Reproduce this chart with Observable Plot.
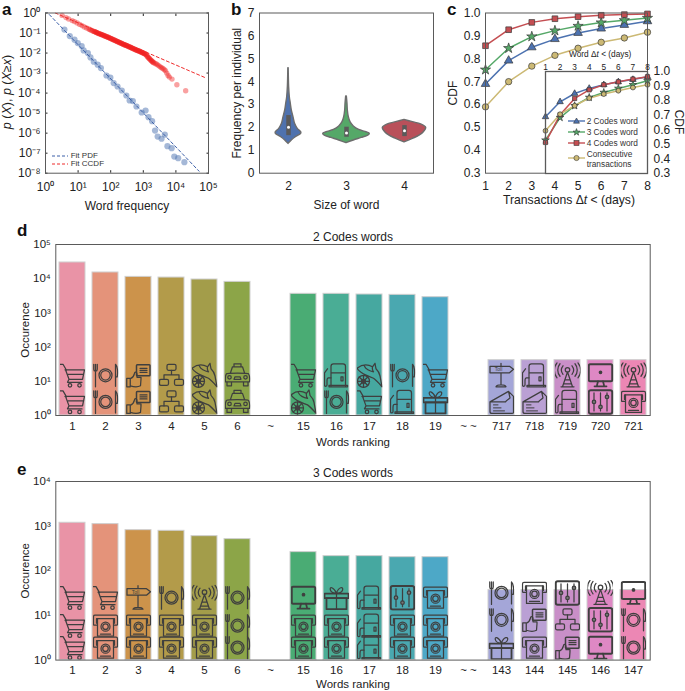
<!DOCTYPE html>
<html>
<head>
<meta charset="utf-8">
<script src="https://cdn.jsdelivr.net/npm/d3@7"></script>
<script src="https://cdn.jsdelivr.net/npm/@observablehq/plot@0.6"></script>
<style>
html,body{margin:0;padding:0;background:#fff;}
#page{position:relative;width:685px;height:691px;overflow:hidden;font-family:"Liberation Sans",Arial,sans-serif;color:#222;}
#page svg{position:absolute;background:transparent;}
.t{position:absolute;white-space:nowrap;line-height:1;}
.letter{font-weight:bold;font-size:17px;color:#111;}
.yl{transform:translate(-50%,-50%) rotate(-90deg);font-size:12px;}
.yr{transform:translate(-50%,-50%) rotate(90deg);font-size:12px;}
.lg{font-size:8.3px;line-height:10px;color:#333;}
</style>
</head>
<body>
<div id="page"></div>
<script>
// ---------- panel a (log10 values)
const pdfLogX=[0.58,0.745,0.89,0.99,1.11,1.17,1.30,1.38,1.48,1.60,1.70,1.87,1.99,2.09,2.21,2.34,2.48,2.58,2.68,2.79,2.95,3.07,3.16,3.27,3.36,3.44,3.56,3.66,3.74,3.87,3.95,4.07,4.26];
const pdfLogY=[-0.83,-1.15,-1.33,-1.5,-1.65,-1.87,-2.0,-2.22,-2.43,-2.58,-2.75,-3.12,-3.23,-3.5,-3.67,-3.87,-4.12,-4.37,-4.4,-4.67,-4.97,-4.87,-5.2,-5.4,-5.87,-6.17,-6.28,-6.07,-6.65,-6.75,-7.17,-7.25,-7.45];
const ccdfLogX=[0.51,0.63,0.71,0.82,0.89,0.97,1.05,1.12,1.19,1.26,1.33,1.36,1.40,1.44,1.48,1.52,1.56,1.60,1.64,1.68,1.72,1.76,1.80,1.84,1.88,1.92,1.96,2.0,2.04,2.08,2.12,2.16,2.2,2.24,2.28,2.32,2.36,2.4,2.44,2.48,2.52,2.56,2.6,2.64,2.68,2.72,2.76,2.8,2.84,2.88,2.92,2.96,3.0,3.04,3.08,3.12,3.16,3.2,3.24,3.28,3.32,3.36,3.4,3.44,3.48,3.52,3.56,3.6,3.64,3.68,3.72,3.76,3.8,3.88,4.03,4.3];
const ccdfLogY=[-0.12,-0.23,-0.30,-0.38,-0.43,-0.50,-0.57,-0.63,-0.70,-0.75,-0.80,-0.83,-0.86,-0.89,-0.92,-0.94,-0.97,-1.0,-1.03,-1.05,-1.08,-1.10,-1.13,-1.16,-1.19,-1.21,-1.24,-1.27,-1.30,-1.33,-1.36,-1.39,-1.42,-1.45,-1.48,-1.51,-1.54,-1.57,-1.60,-1.62,-1.65,-1.68,-1.71,-1.74,-1.77,-1.80,-1.83,-1.86,-1.88,-1.91,-1.94,-1.97,-2.0,-2.03,-2.07,-2.16,-2.23,-2.30,-2.37,-2.43,-2.48,-2.52,-2.55,-2.59,-2.64,-2.69,-2.73,-2.77,-2.82,-2.88,-3.0,-3.12,-3.2,-3.3,-3.58,-3.88];
const ccdfDenseLogX=[1.50,1.54,1.58,1.62,1.66,1.70,1.74,1.78,1.82,1.86,1.90,1.94,1.98,2.02,2.06,2.10,2.14,2.18,2.22,2.26,2.30,2.34,2.38,2.42,2.46,2.5,2.54,2.58,2.62,2.66,2.7,2.74,2.78,2.82,2.86,2.9,2.94,2.98,3.02,3.06,3.1,3.14,3.18,3.22,3.26,3.3];
const ccdfDenseLogY=[-.93,-.955,-.985,-1.015,-1.04,-1.065,-1.09,-1.115,-1.145,-1.175,-1.20,-1.225,-1.255,-1.285,-1.315,-1.345,-1.375,-1.405,-1.435,-1.465,-1.495,-1.525,-1.555,-1.585,-1.61,-1.635,-1.665,-1.695,-1.725,-1.755,-1.785,-1.815,-1.845,-1.87,-1.895,-1.925,-1.955,-1.985,-2.015,-2.05,-2.11,-2.2,-2.27,-2.34,-2.4,-2.455];
const fitPdfLog=[[0,0.12],[4.71,-7.9]];
const fitCcdfLog=[[0.3,0],[4.9,-3.23]];

// ---------- panel b
const violinCats=["2","3","4"];
const violinColors=["#4f72ae","#55a868","#b9505a"];
const violinY=[[1.28,1.43,1.57,1.72,1.79,1.94,2.15,2.45,2.74,3.03,3.32,3.76,4.19,4.59],
               [1.31,1.43,1.54,1.64,1.72,1.79,1.89,2.04,2.23,2.45,2.74,3.03,3.35],
               [1.35,1.5,1.64,1.79,1.98,2.13,2.23,2.33]];
const violinHalf=[[0,.057,.126,.218,.22,.16,.115,.086,.057,.04,.023,.011,.006,.003],
                  [0,.126,.259,.374,.402,.345,.218,.126,.069,.04,.023,.017,.006],
                  [0,.144,.259,.333,.374,.287,.144,0]];
const boxLow=[1.64,1.57,1.6], boxHigh=[2.52,2.01,2.08], boxMedian=[2.01,1.76,1.86];

// ---------- panel c
const days=[1,2,3,4,5,6,7,8];
const seriesNames=["2 Codes word","3 Codes word","4 Codes word","Consecutive transactions"];
const seriesColors=["#4c72b0","#55a868","#c44e52","#ccb974"];
const seriesSymbols=["triangle","star","square","circle"];
const transCDF=[[.69,.792,.85,.886,.913,.932,.948,.964],
                [.752,.846,.897,.923,.943,.958,.968,.978],
                [.857,.927,.959,.975,.984,.99,.993,.996],
                [.59,.70,.768,.815,.846,.872,.891,.916]];
const wordCDF=[[.689,.792,.849,.884,.909,.929,.945,.964],
               [.529,.684,.765,.822,.856,.884,.909,.936],
               [.513,.703,.815,.874,.909,.929,.948,.964],
               [.593,.707,.765,.817,.845,.868,.890,.909]];

// ---------- panels d, e
const rankColors=["#e993a6","#e4937a","#cc934b","#b39b4a","#a39d4a","#8ca548","~","#4aac74","#4aad95","#46a8a0","#4aa8b0","#4da8c7","~~","#a4a6d8","#baa0d4","#c98fc8","#de88c4","#ec87b4"];
const ranksD=["1","2","3","4","5","6","~","15","16","17","18","19","~ ~","717","718","719","720","721"];
const valuesD=[29800,15200,11300,10800,9470,8070,null,3610,3610,3450,3370,2880,null,41.5,41.5,41.5,41.5,41.5];
const iconsD1=["cart","plate","thumb","net","fish","taxi",null,"fish","plate","cart","pump","gift",null,"cheese","cheese","pump","sliders","atm"];
const iconsD2=["cart","plate","thumb","net","fish","taxi",null,"cart","pump","fish","plate","cart",null,"toll","pump","antenna","monitor","antenna"];
const ranksE=["1","2","3","4","5","6","~","15","16","17","18","19","~ ~","143","144","145","146","147"];
const valuesE=[1190,1110,813,786,597,512,null,262,213,213,202,202,null,37,37,37,37,37];
const iconsE1=["cart","atm","atm","atm","atm","plate",null,"atm","atm","pump","atm","atm",null,"gift","atm","thumb","monitor","plate"];
const iconsE2=["cart","atm","atm","atm","atm","plate",null,"atm","atm","pump","atm","atm",null,"plate","thumb","net","sliders","plate"];
const iconsE3=["cart","cart","toll","plate","antenna","plate",null,"monitor","gift","pump","sliders","atm",null,"plate","atm","sliders","antenna","monitor"];

// ---------- pictograms
const iconShapes={
cart:`<path d="M1 6H12L26 30M20 28H98L90 66H36L22 28M32 46H94M36 66L30 78H88"/><circle cx="40" cy="90" r="7"/><circle cx="78" cy="90" r="7"/>`,
plate:`<circle cx="50" cy="50" r="26"/><circle cx="50" cy="50" r="19"/><path d="M3 6V26C3 36 17 36 17 26V6M10 6V96M90 94V6C99 14 100 40 97 56H90"/>`,
thumb:`<rect x="42" y="8" width="54" height="44" rx="3" stroke-width="6"/><path d="M56 22H84M56 30H84M56 38H84"/><path d="M3 62H17V96H3ZM17 64C26 60 32 52 34 42C36 34 44 36 44 46V58H60V66L58 92C50 96 30 96 17 92"/>`,
net:`<rect x="32" y="6" width="36" height="24" rx="6"/><rect x="2" y="66" width="36" height="24" rx="6"/><rect x="62" y="66" width="36" height="24" rx="6"/><path d="M50 30V48M20 66V48H80V66"/>`,
fish:`<path d="M0 22C20 6 44 6 62 16L72 2L76 24C84 32 90 42 92 52L100 96C88 82 78 70 66 62C50 56 30 48 16 38C8 32 4 28 0 22ZM30 14C34 24 50 34 66 36M62 16C60 24 62 30 66 36"/><circle cx="26" cy="74" r="24"/><circle cx="26" cy="74" r="8"/><path d="M26 50V98M2 74H50M9 57L43 91M43 57L9 91"/>`,
taxi:`<path d="M36 14V4H64V14M22 40L30 16H70L78 40M6 44C10 40 90 40 94 44C98 50 100 60 98 76H2C0 60 2 50 6 44ZM8 76V92H26V76M74 76V92H92V76M36 66L40 56H60L64 66Z"/><circle cx="18" cy="58" r="7"/><circle cx="82" cy="58" r="7"/>`,
pump:`<path d="M28 92V14C28 8 32 4 38 4H76C82 4 86 8 86 14V92M20 96H94V90H20ZM28 40H86"/><path d="M28 60H18C12 60 12 66 12 72V88C12 96 2 96 2 88V40L14 24"/><rect x="68" y="56" width="8" height="16"/>`,
gift:`<rect x="2" y="34" width="96" height="18" stroke-width="7"/><rect x="10" y="52" width="80" height="44" stroke-width="7"/><path d="M50 34V96M50 32C38 6 20 4 26 20C30 30 44 32 50 32C58 6 80 4 74 20C70 30 56 32 50 32Z"/>`,
toll:`<path d="M48 2V14M4 14H82L98 26L82 40H4ZM48 40V88M28 96C32 86 64 86 68 96Z"/><text x="38" y="34" font-family="Liberation Sans" font-size="20" fill="#3f3f3f" stroke="none" text-anchor="middle">Toll</text>`,
cheese:`<path d="M4 50L78 8L98 28V92C98 96 94 96 90 96H12C6 96 4 92 4 88ZM4 50H66C70 42 78 42 84 34L78 8"/><path d="M18 62H36M18 74H48M18 86H62" stroke-width="4"/>`,
antenna:`<circle cx="50" cy="28" r="9"/><path d="M50 37L30 96M50 37L70 96M40 68H60M34 84H66M24 96H76M32 12C24 22 24 36 32 46M68 12C76 22 76 36 68 46M20 4C8 18 8 40 20 54M80 4C92 18 92 40 80 54M8 0C-6 18 -6 42 8 60M92 0C106 18 106 42 92 60"/>`,
monitor:`<rect x="3" y="6" width="94" height="68" rx="6" stroke-width="8"/><circle cx="50" cy="38" r="5" fill="#3f3f3f"/><path d="M40 74L36 90M60 74L64 90M26 94H74" stroke-width="7"/>`,
sliders:`<rect x="3" y="3" width="94" height="94" rx="8" stroke-width="8"/><path d="M24 14V86M50 14V86M76 14V86"/><circle cx="24" cy="50" r="7" fill="#777"/><circle cx="50" cy="70" r="7" fill="#777"/><circle cx="76" cy="30" r="7" fill="#777"/>`,
atm:`<path d="M14 48H6C3 48 2 46 2 44V14C2 10 4 8 8 8H92C96 8 98 10 98 14V44C98 46 97 48 94 48H86"/><path d="M14 22H86M14 22V40M86 22V40"/><path d="M18 22V92H82V22"/><circle cx="50" cy="54" r="18"/><circle cx="50" cy="54" r="11"/><path d="M30 84H70"/>`
};
const iconSrc=name=>"data:image/svg+xml,"+encodeURIComponent(
  `<svg xmlns="http://www.w3.org/2000/svg" viewBox="-2 -2 104 104"><g fill="none" stroke="#3f3f3f" stroke-width="5" stroke-linejoin="round" stroke-linecap="round">${iconShapes[name]}</g></svg>`);

// ---------- helpers
const page=document.getElementById("page");
const FRAME="#5a5a5a", INK="#222";
function put(plot,left,top){
  plot.style.left=left+"px";plot.style.top=top+"px";plot.style.position="absolute";
  page.appendChild(plot);
}
function text(html,left,top,cls){
  const d=document.createElement("div");
  d.className="t "+(cls||"");d.innerHTML=html;d.style.left=left+"px";d.style.top=top+"px";
  page.appendChild(d);return d;
}
const SUP={"0":"⁰","1":"¹","2":"²","3":"³","4":"⁴","5":"⁵","6":"⁶","7":"⁷","8":"⁸","9":"⁹","-":"⁻"};
const pow10=v=>"10"+String(Math.round(Math.log10(v))).replace(/./g,c=>SUP[c]);
const base={style:{fontFamily:'"Liberation Sans",Arial,sans-serif',fontSize:"12px",color:INK,background:"transparent",overflow:"visible"}};

// ---------- panel a
const pdfPts=pdfLogX.map((x,i)=>({x:10**x,y:10**pdfLogY[i]}));
const ccdfPts=[...ccdfLogX.map((x,i)=>({x:10**x,y:10**ccdfLogY[i]})),...ccdfDenseLogX.map((x,i)=>({x:10**x,y:10**ccdfDenseLogY[i]}))];
const toPts=a=>a.map(([x,y])=>({x:10**x,y:10**y}));
const decadesX=[1,10,100,1e3,1e4,1e5], decadesY=[1e-8,1e-7,1e-6,1e-5,1e-4,1e-3,1e-2,1e-1,1];
put(Plot.plot({...base,width:218,height:212,marginLeft:45,marginTop:12.5,marginRight:10,marginBottom:39.3,
  x:{type:"log",domain:[1,1e5]},y:{type:"log",domain:[1e-8,1]},
  marks:[
    Plot.dot(pdfPts,{x:"x",y:"y",r:3.1,fill:"#4c72b0",fillOpacity:.5,stroke:"none"}),
    Plot.dot(ccdfPts,{x:"x",y:"y",r:2.7,fill:"#f02020",fillOpacity:.42,stroke:"none"}),
    Plot.line(toPts(fitPdfLog),{x:"x",y:"y",stroke:"#3b5fa8",strokeWidth:1,strokeDasharray:"3 2.5",clip:true}),
    Plot.line(toPts(fitCcdfLog),{x:"x",y:"y",stroke:"#ee2b2b",strokeWidth:1,strokeDasharray:"3 2.5",clip:true}),
    Plot.axisX({ticks:decadesX,tickFormat:pow10,tickSize:-2.5,tickPadding:11.5,fontSize:12,label:"Word frequency",labelAnchor:"center",labelOffset:37,labelArrow:"none"}),
    Plot.axisX({anchor:"top",ticks:decadesX,tickFormat:()=>"",tickSize:-2.5,label:null}),
    Plot.axisY({ticks:decadesY,tickFormat:pow10,tickSize:-2.5,tickPadding:7.5,fontSize:12,label:null}),
    Plot.axisY({anchor:"right",ticks:decadesY,tickFormat:()=>"",tickSize:-2.5,label:null}),
    Plot.frame({stroke:FRAME,strokeWidth:1})
  ]}),0,0);
text("<i>p</i> (<i>X</i>), <i>p</i> (<i>X</i>≥<i>x</i>)",7,92,"yl").style.fontSize="12.5px";

// ---------- panel b
const centers=violinCats.map((_,i)=>i+.5);
const violinRows=violinCats.flatMap((c,i)=>violinY[i].map((y,j)=>({c,y,x1:centers[i]-violinHalf[i][j],x2:centers[i]+violinHalf[i][j]})));
const boxRows=violinCats.map((c,i)=>({x:centers[i],lo:boxLow[i],hi:boxHigh[i],m:boxMedian[i]}));
put(Plot.plot({...base,width:215,height:212,marginLeft:34,marginTop:12.5,marginRight:7,marginBottom:39.3,
  x:{domain:[0,3]},y:{domain:[0,7]},
  color:{domain:violinCats,range:violinColors},
  marks:[
    Plot.areaX(violinRows,{y:"y",x1:"x1",x2:"x2",z:"c",fill:"c",stroke:"#6d6d6d",strokeWidth:1.4,curve:"catmull-rom"}),
    Plot.ruleX(boxRows,{x:"x",y1:"lo",y2:"hi",stroke:"#5a5a5a",strokeWidth:4.5}),
    Plot.dot(boxRows,{x:"x",y:"m",r:1.5,fill:"#fff",stroke:"none"}),
    Plot.axisX({ticks:centers,tickFormat:d=>violinCats[Math.floor(d)],tickSize:0,tickPadding:8,fontSize:12,label:"Size of word",labelAnchor:"center",labelOffset:36,labelArrow:"none"}),
    Plot.axisY({ticks:[0,1,2,3,4,5,6,7],tickFormat:d=>String(d),tickSize:0,tickPadding:5,fontSize:12,label:"Frequency per individual",labelAnchor:"center",labelOffset:27,labelArrow:"none"}),
    Plot.frame({stroke:FRAME,strokeWidth:1})
  ]}),225,0);

// ---------- panel c
const longRows=table=>seriesNames.flatMap((s,i)=>days.map((d,j)=>({s,d,v:table[i][j]})));
const cColor={domain:seriesNames,range:seriesColors};
const cSym={domain:seriesNames,range:seriesSymbols};
const seriesMarks=(rows,r)=>[
  Plot.line(rows,{x:"d",y:"v",z:"s",stroke:"s",strokeWidth:1.5}),
  Plot.dot(rows,{x:"d",y:"v",symbol:"s",fill:"s",stroke:"#3a3a3a",strokeWidth:.7,r})
];
put(Plot.plot({...base,width:215,height:212,marginLeft:45,marginTop:12.5,marginRight:8,marginBottom:39.3,
  x:{domain:[1,8]},y:{domain:[.3,1]},color:cColor,symbol:cSym,
  marks:[
    ...seriesMarks(longRows(transCDF),3.2),
    Plot.axisX({ticks:days,tickFormat:d=>String(d),tickSize:0,tickPadding:8,fontSize:12,label:null}),
    Plot.axisY({ticks:[.3,.4,.5,.6,.7,.8,.9,1],tickFormat:d3.format(".1f"),tickSize:0,tickPadding:5,fontSize:12,label:"CDF",labelAnchor:"center",labelOffset:37,labelArrow:"none"}),
    Plot.frame({stroke:FRAME,strokeWidth:1})
  ]}),440,0);
const inset=Plot.plot({...base,width:102,height:102,marginLeft:0,marginTop:0,marginRight:0,marginBottom:0,
  x:{domain:[1,8]},y:{domain:[.3,1]},color:cColor,symbol:cSym,
  marks:[
    Plot.frame({fill:"#fff",stroke:"none"}),
    ...seriesMarks(longRows(wordCDF),2.4),
    Plot.axisX({anchor:"top",ticks:days,tickFormat:d=>String(d),tickSize:0,tickPadding:2,fontSize:8.3,label:null}),
    Plot.axisY({anchor:"right",ticks:[.3,.4,.5,.6,.7,.8,.9,1],tickFormat:d3.format(".1f"),tickSize:0,tickPadding:6,fontSize:12,label:null}),
    Plot.frame({stroke:FRAME,strokeWidth:1.3})
  ]});
put(inset,545,70.7);
text("Word Δ<i>t</i> &lt; (days)",569,50).style.fontSize="8.3px";
text("Transactions Δ<i>t</i> &lt; (days)",503,194).style.fontSize="12.2px";
text("CDF",678.5,122,"yr");

// legend of panel c
const swatch=(color,shape)=>`<svg style="position:static;display:block;" width="17" height="8" viewBox="0 0 17 8"><line x1="0" x2="17" y1="4" y2="4" stroke="${color}" stroke-width="1.4"/>${shape}</svg>`;
const legendShapes=[
  `<path d="M8.5 1L11.5 6.2H5.5Z" fill="#4c72b0" stroke="#3a3a3a" stroke-width=".6"/>`,
  `<path d="M8.5 .6L9.4 3.1H12L9.9 4.7L10.7 7.2L8.5 5.7L6.3 7.2L7.1 4.7L5 3.1H7.6Z" fill="#55a868" stroke="#3a3a3a" stroke-width=".6"/>`,
  `<rect x="6" y="1.5" width="5" height="5" fill="#c44e52" stroke="#3a3a3a" stroke-width=".6"/>`,
  `<circle cx="8.5" cy="4" r="2.6" fill="#ccb974" stroke="#3a3a3a" stroke-width=".6"/>`];
[121,132.3,142.7].forEach((mid,i)=>{
  text(swatch(seriesColors[i],legendShapes[i]),568,mid-4);
  text(seriesNames[i],586.7,mid-5,"lg");
});
text(swatch(seriesColors[3],legendShapes[3]),568,154.3);
text("Consecutive<br>transactions",586.7,148.7,"lg");

// legend of panel a
const dash=c=>`<svg style="position:static;display:block;" width="16" height="4" viewBox="0 0 16 4"><line x1="0" x2="16" y1="2" y2="2" stroke="${c}" stroke-width="1" stroke-dasharray="3 2"/></svg>`;
text(dash("#3b5fa8"),52,153.7);text("Fit PDF",70.7,150.7,"lg").style.fontSize="8px";
text(dash("#ee2b2b"),52,162);text("Fit CCDF",70.7,159,"lg").style.fontSize="8px";

// ---------- panels d, e
const ROW_D=[2.5,15], ROW_E_LEFT=[1.9,5.9,25], ROW_E_RIGHT=[1.9,8,32];
function rankPanel(title,ranks,values,iconRows,rowFor,yMax,yTicks,frameH,h,top,labelOffset){
  const bars=ranks.map((r,i)=>({r,v:values[i],color:rankColors[i]})).filter(d=>d.v!=null);
  const icons=iconRows.flatMap((names,row)=>names.map((n,i)=>n&&{r:ranks[i],n,y:rowFor(row,i)}).filter(Boolean));
  put(Plot.plot({...base,width:685,height:h,marginLeft:55.3,marginRight:685-649.7,marginTop:20,marginBottom:h-20-frameH,
    x:{type:"band",domain:ranks,paddingInner:.2,paddingOuter:.1},
    y:{type:"log",domain:[1,yMax]},
    marks:[
      Plot.barY(bars,{x:"r",y1:()=>1,y2:"v",fill:"color",stroke:"#cfcfcf",strokeWidth:1}),
      Plot.image(icons,{x:"r",y:"y",src:d=>iconSrc(d.n),width:26,height:26,clip:true}),
      Plot.text([title],{frameAnchor:"top",lineAnchor:"bottom",dy:-4,fontSize:12,fill:INK}),
      Plot.axisX({tickSize:0,tickPadding:6,fontSize:11.5,label:"Words ranking",labelAnchor:"center",labelOffset,labelArrow:"none"}),
      Plot.axisY({ticks:yTicks,tickFormat:pow10,tickSize:0,tickPadding:5,fontSize:11.5,label:"Occurence",labelAnchor:"center",labelOffset:35,labelArrow:"none"}),
      Plot.frame({stroke:FRAME,strokeWidth:1})
    ]}),0,top);
}
rankPanel("2 Codes words",ranksD,valuesD,[iconsD1,iconsD2],(row)=>ROW_D[row],1e5,[1,10,100,1e3,1e4,1e5],171,225,224.3,30);
rankPanel("3 Codes words",ranksE,valuesE,[iconsE1,iconsE2,iconsE3],(row,i)=>(i>12?ROW_E_RIGHT:ROW_E_LEFT)[row],1e4,[1,10,100,1e3,1e4],178.6,230.3,460.7,28);

// ---------- panel letters
text("a",2,1,"letter");text("b",231,1,"letter");text("c",447,1,"letter");
text("d",17,222,"letter");text("e",17,461,"letter");
</script>
</body>
</html>
